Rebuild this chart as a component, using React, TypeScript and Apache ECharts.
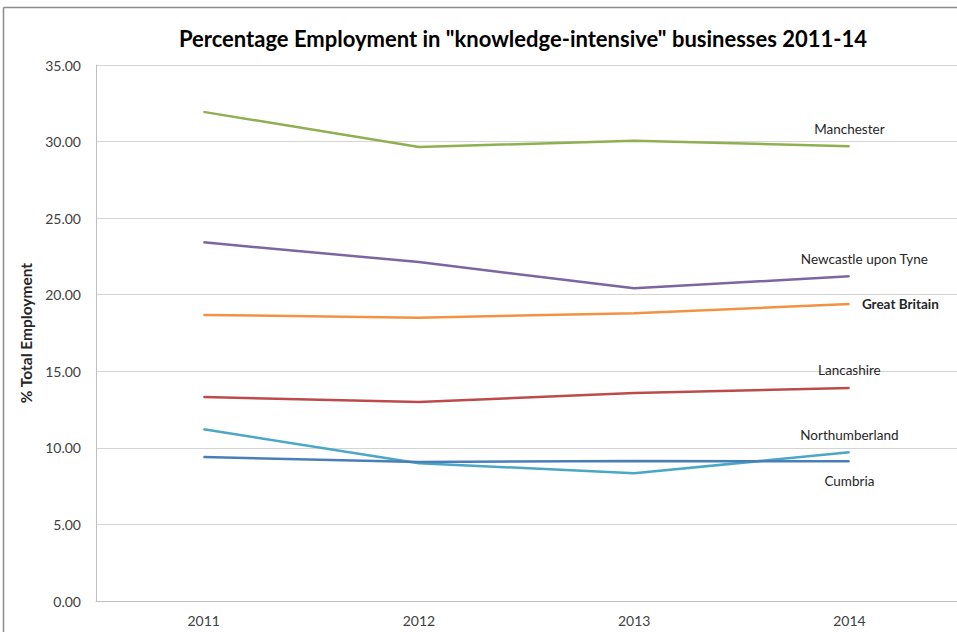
import React, { useEffect, useRef } from "react";
import * as echarts from "echarts";

const years = ["2011", "2012", "2013", "2014"];
const manchester = [31.94, 29.65, 30.05, 29.7];
const newcastle = [23.42, 22.13, 20.42, 21.2];
const greatBritain = [18.68, 18.5, 18.79, 19.39];
const lancashire = [13.32, 12.99, 13.58, 13.91];
const northumberland = [11.21, 9.0, 8.34, 9.71];
const cumbria = [9.4, 9.08, 9.14, 9.12];
const yTicks = { min: 0, max: 35, interval: 5 };

const FONT = "Lato, 'Open Sans', sans-serif";

function withEndLabel(values: number[], name: string, label: any) {
  return values.map((v, i) =>
    i === values.length - 1
      ? { value: v, label: { show: true, formatter: name, ...label } }
      : v
  );
}

export default function App() {
  const ref = useRef<HTMLDivElement>(null);
  useEffect(() => {
    if (!ref.current) return;
    const chart = echarts.init(ref.current, null, { renderer: "svg" });
    const baseLabel = {
      fontFamily: FONT,
      fontSize: 13.5,
      color: "#262626",
    };
    const mk = (name: string, data: number[], color: string, label: any) => ({
      name,
      type: "line",
      data: withEndLabel(data, name, { ...baseLabel, ...label }),
      symbol: "circle",
      symbolSize: 1,
      showSymbol: true,
      lineStyle: { color, width: 2.5 },
      itemStyle: { color },
      z: 3,
    });
    chart.setOption({
      animation: false,
      backgroundColor: "#ffffff",
      textStyle: { fontFamily: FONT },
      graphic: [
        {
          type: "line",
          shape: { x1: 3.5, y1: 7.5, x2: 957, y2: 7.5 },
          style: { stroke: "#8c8c8c", lineWidth: 1.5 },
          silent: true,
        },
        {
          type: "line",
          shape: { x1: 3.5, y1: 7.5, x2: 3.5, y2: 632 },
          style: { stroke: "#8c8c8c", lineWidth: 1.5 },
          silent: true,
        },
        {
          type: "text",
          x: 523,
          y: 38,
          style: {
            text: 'Percentage Employment in "knowledge-intensive" businesses 2011-14',
            fontFamily: FONT,
            fontWeight: "bold",
            fontSize: 22,
            fill: "#000000",
            textAlign: "center",
            textVerticalAlign: "middle",
          },
        },
      ],
      grid: { left: 96, right: 0, top: 65, bottom: 31 },
      xAxis: {
        type: "category",
        data: years,
        boundaryGap: true,
        axisLine: { show: true, lineStyle: { color: "#bfbfbf", width: 1 } },
        axisTick: { show: false },
        splitLine: { show: false },
        axisLabel: {
          margin: 12,
          fontFamily: FONT,
          fontSize: 14,
          color: "#404040",
        },
      },
      yAxis: {
        type: "value",
        min: yTicks.min,
        max: yTicks.max,
        interval: yTicks.interval,
        name: "% Total Employment",
        nameLocation: "middle",
        nameGap: 56,
        nameTextStyle: {
          fontFamily: FONT,
          fontWeight: "bold",
          fontSize: 15.5,
          color: "#262626",
        },
        axisLine: { show: true, lineStyle: { color: "#bfbfbf", width: 1 } },
        axisTick: { show: false },
        splitLine: { show: true, lineStyle: { color: "#d4d4d4", width: 1 } },
        axisLabel: {
          margin: 15,
          fontFamily: FONT,
          fontSize: 14,
          color: "#404040",
          formatter: (v: number) => v.toFixed(2),
        },
      },
      series: [
        mk("Manchester", manchester, "#8fb050", { position: "top", distance: 10 }),
        mk("Newcastle upon Tyne", newcastle, "#7c65a0", {
          position: "top",
          distance: 10,
          offset: [15, 0],
        }),
        mk("Great Britain", greatBritain, "#f39242", {
          position: "right",
          distance: 12,
          fontWeight: "bold",
        }),
        mk("Lancashire", lancashire, "#be4b4b", { position: "top", distance: 10 }),
        mk("Northumberland", northumberland, "#4aa8c6", { position: "top", distance: 10 }),
        mk("Cumbria", cumbria, "#4a7eb8", { position: "bottom", distance: 12 }),
      ],
    });
    return () => chart.dispose();
  }, []);
  return (
    <div
      ref={ref}
      style={{ position: "fixed", left: 0, top: 0, width: 957, height: 632 }}
    />
  );
}
